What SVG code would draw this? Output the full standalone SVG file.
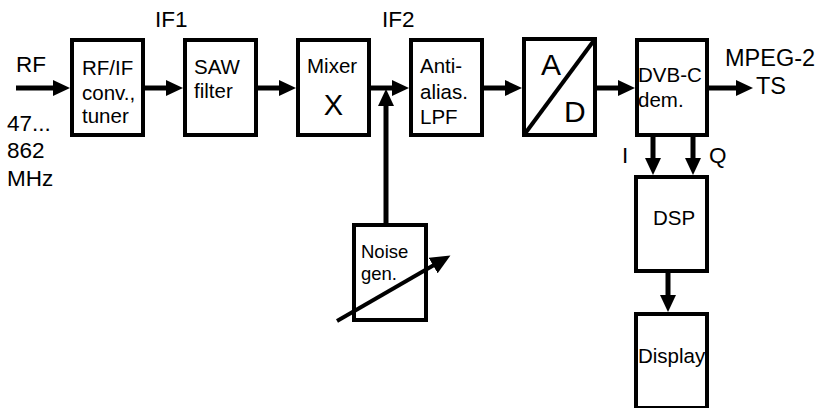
<svg xmlns="http://www.w3.org/2000/svg" width="820" height="408" viewBox="0 0 820 408">
<style>
.box{fill:#fff;stroke:#000;stroke-width:4}
.t{font-family:"Liberation Sans",Arial,sans-serif;font-size:20.5px;fill:#000}
.s{font-size:18.5px}
.big{font-size:30px}
.lab{font-family:"Liberation Sans",Arial,sans-serif;font-size:22.5px;fill:#000}
.c{stroke:#000;stroke-width:5;fill:none}
</style>
<defs>
<marker id="ah" markerUnits="userSpaceOnUse" markerWidth="18" markerHeight="16" refX="1" refY="8" orient="auto">
<path d="M0,0 L17,8 L0,16 z" fill="#000"/>
</marker>
<marker id="ah2" markerUnits="userSpaceOnUse" markerWidth="21" markerHeight="18" refX="1" refY="9" orient="auto">
<path d="M0,0 L20,9 L0,18 z" fill="#000"/>
</marker>
</defs>
<g id="connectors">
<line class="c" x1="16" y1="88" x2="54" y2="88" marker-end="url(#ah)"/>
<line class="c" x1="145" y1="88" x2="167" y2="88" marker-end="url(#ah)"/>
<line class="c" x1="258" y1="88" x2="280" y2="88" marker-end="url(#ah)"/>
<line class="c" x1="371" y1="88" x2="393" y2="88" marker-end="url(#ah)"/>
<line class="c" x1="484" y1="88" x2="506" y2="88" marker-end="url(#ah)"/>
<line class="c" x1="597" y1="88" x2="619" y2="88" marker-end="url(#ah)"/>
<line class="c" x1="709" y1="88" x2="737" y2="88" marker-end="url(#ah)"/>
<line class="c" x1="386" y1="223" x2="386" y2="105" marker-end="url(#ah)"/>
<line class="c" x1="653" y1="137" x2="653" y2="159" marker-end="url(#ah)"/>
<line class="c" x1="693" y1="137" x2="693" y2="159" marker-end="url(#ah)"/>
<line class="c" x1="668" y1="273" x2="668" y2="296" marker-end="url(#ah)"/>
</g>
<g id="rfif"><rect class="box" x="72" y="40" width="71" height="95"/>
<text class="t" x="82" y="75">RF/IF</text><text class="t" x="82" y="100">conv.,</text><text class="t" x="82" y="123">tuner</text></g>
<g id="saw"><rect class="box" x="185" y="40" width="71" height="95"/>
<text class="t" x="194" y="74">SAW</text><text class="t" x="194" y="98">filter</text></g>
<g id="mixer"><rect class="box" x="298" y="40" width="71" height="95"/>
<text class="t" x="307" y="73">Mixer</text><text class="t" x="333.5" y="115" text-anchor="middle" style="font-size:29px">X</text></g>
<g id="antialias"><rect class="box" x="411" y="40" width="71" height="95"/>
<text class="t" x="420" y="73">Anti-</text><text class="t" x="420" y="99">alias.</text><text class="t" x="420" y="124">LPF</text></g>
<g id="adc"><rect class="box" x="524" y="39" width="71" height="96"/>
<line x1="524" y1="135" x2="595" y2="39" stroke="#000" stroke-width="4"/>
<text class="t big" x="541" y="75">A</text><text class="t big" x="564" y="122">D</text></g>
<g id="dvbc"><rect class="box" x="637" y="40" width="70" height="95"/>
<text class="t" x="638" y="82">DVB-C</text><text class="t" x="638" y="107">dem.</text></g>
<g id="dsp"><rect class="box" x="636" y="177" width="71" height="94"/>
<text class="t" x="653" y="225">DSP</text></g>
<g id="display"><rect class="box" x="636" y="314" width="71" height="94"/>
<text class="t" x="638" y="363">Display</text></g>
<g id="noisegen"><rect class="box" x="354" y="225" width="72" height="95"/>
<text class="t s" x="361" y="258">Noise</text><text class="t s" x="361" y="280">gen.</text>
<line x1="337" y1="321" x2="434" y2="265" stroke="#000" stroke-width="4" marker-end="url(#ah2)"/></g>
<g id="labels">
<text class="lab" x="16" y="72">RF</text>
<text class="lab" x="7" y="131">47...</text>
<text class="lab" x="7" y="158">862</text>
<text class="lab" x="7" y="186">MHz</text>
<text class="lab" x="155" y="27">IF1</text>
<text class="lab" x="382" y="27">IF2</text>
<text class="lab" x="725" y="66" style="font-size:23.5px">MPEG-2</text>
<text class="lab" x="756" y="94" style="font-size:23.5px">TS</text>
<text class="lab" x="622" y="163">I</text>
<text class="lab" x="709" y="163">Q</text>
</g>
</svg>
